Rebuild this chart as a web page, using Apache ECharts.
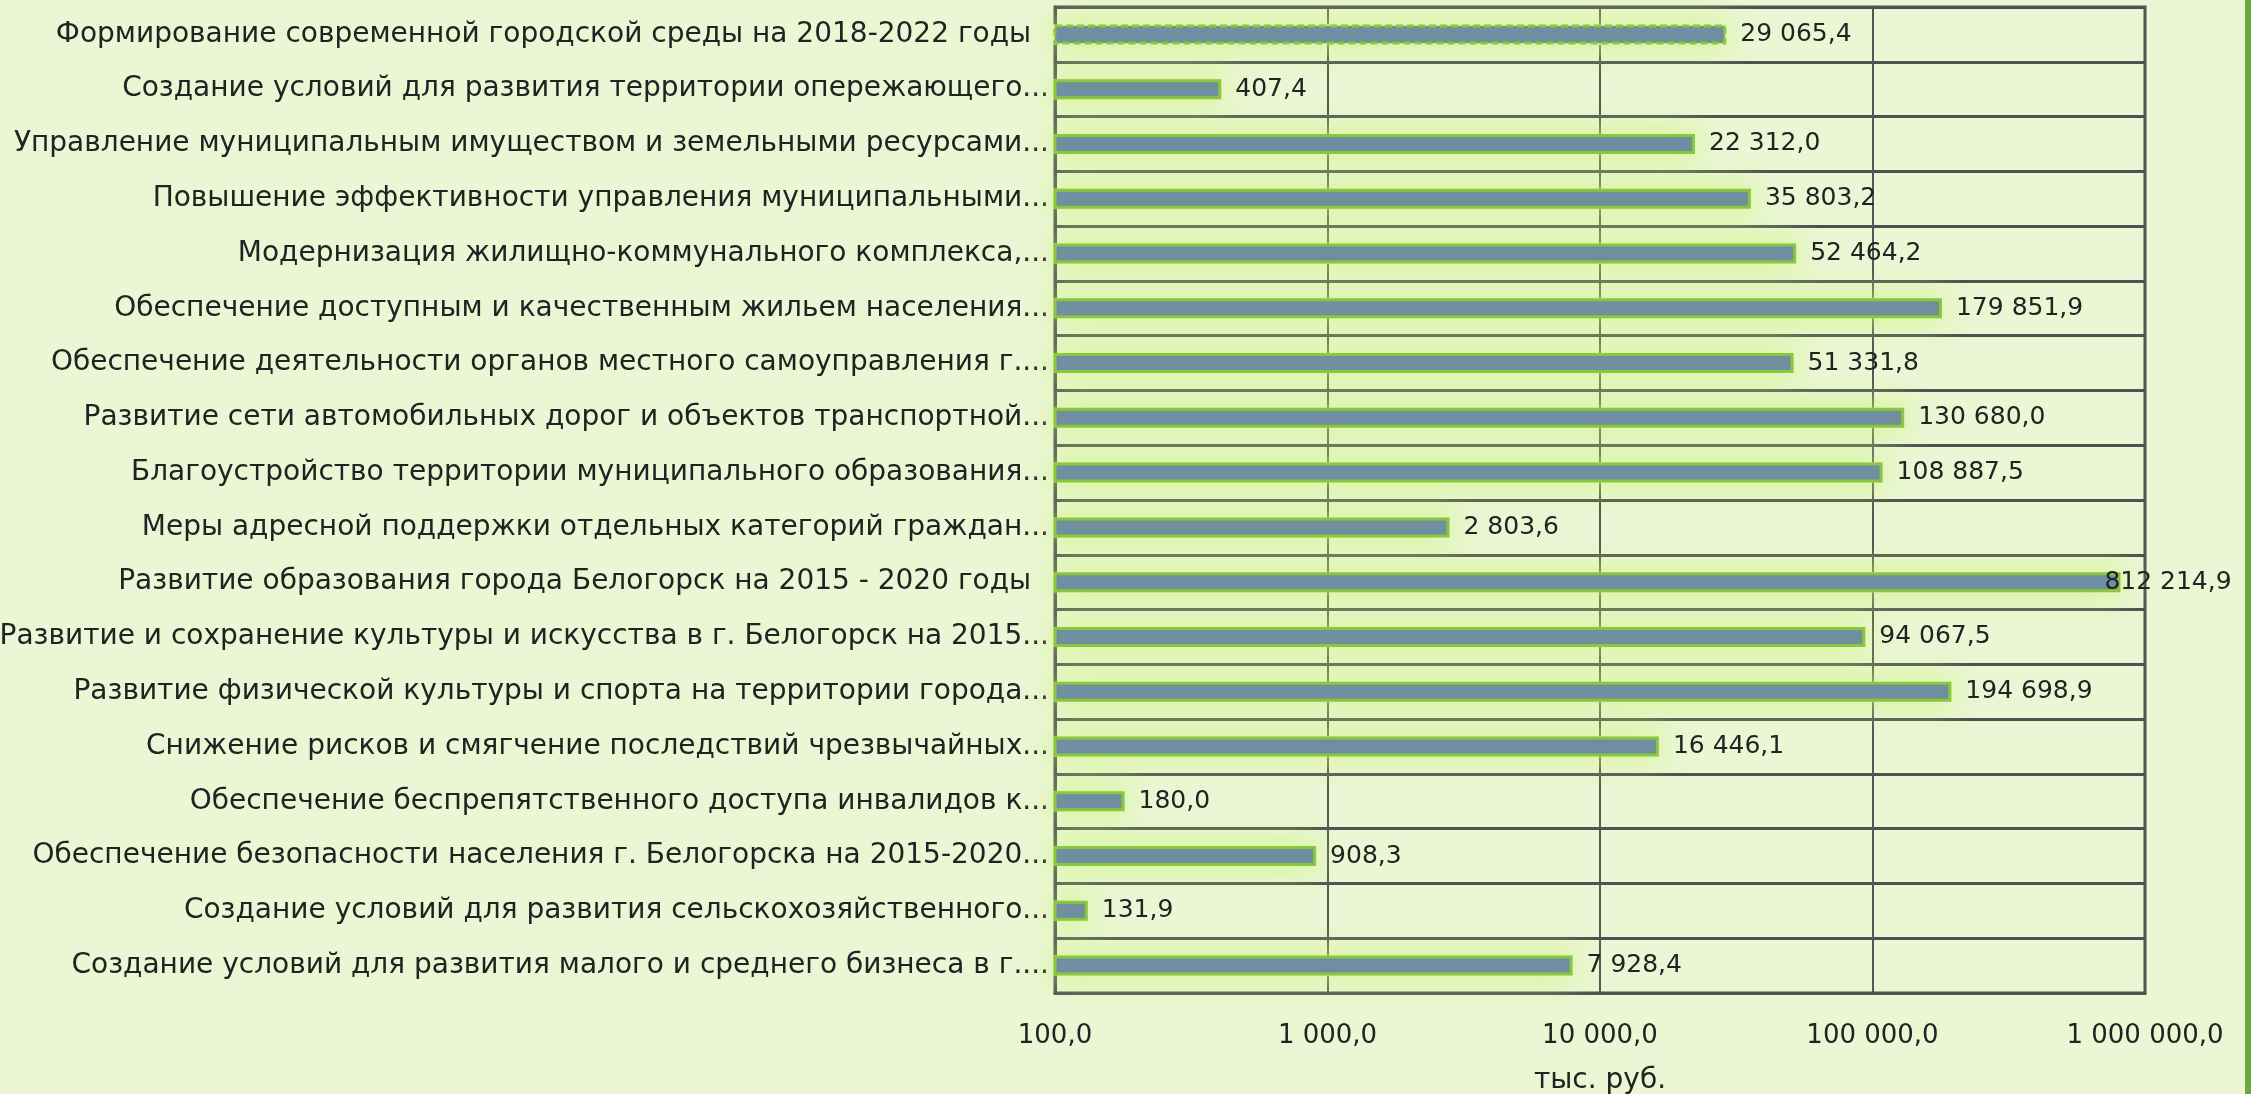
<!DOCTYPE html>
<html>
<head>
<meta charset="utf-8">
<script src="https://cdn.jsdelivr.net/npm/echarts@6/dist/echarts.min.js"></script>
<style>
html,body{margin:0;padding:0;background:#eaf6d4;}
#chart{width:2251px;height:1094px;}
</style>
</head>
<body>
<div id="chart"></div>
<script>
const categories = [
  "Формирование современной городской среды на 2018-2022 годы  ",
  "Создание условий для развития территории опережающего...",
  "Управление муниципальным имуществом и земельными ресурсами...",
  "Повышение эффективности управления муниципальными...",
  "Модернизация жилищно-коммунального комплекса,...",
  "Обеспечение доступным и качественным жильем населения...",
  "Обеспечение деятельности органов местного самоуправления г....",
  "Развитие сети автомобильных дорог и объектов транспортной...",
  "Благоустройство территории муниципального образования...",
  "Меры адресной поддержки отдельных категорий граждан...",
  "Развитие образования города Белогорск на 2015 - 2020 годы  ",
  "Развитие и сохранение культуры и искусства в г. Белогорск на 2015...",
  "Развитие физической культуры и спорта на территории города...",
  "Снижение рисков и смягчение последствий чрезвычайных...",
  "Обеспечение беспрепятственного доступа инвалидов к...",
  "Обеспечение безопасности населения г. Белогорска на 2015-2020...",
  "Создание условий для развития сельскохозяйственного...",
  "Создание условий для развития малого и среднего бизнеса в г...."
];
const values = [29065.4, 407.4, 22312.0, 35803.2, 52464.2, 179851.9, 51331.8, 130680.0, 108887.5, 2803.6, 812214.9, 94067.5, 194698.9, 16446.1, 180.0, 908.3, 131.9, 7928.4];
const axisMin = 100, axisMax = 1000000;
const axisTitle = "тыс. руб.";

function fmt(v){
  const s = Number(v).toFixed(1).split('.');
  return s[0].replace(/\B(?=(\d{3})+(?!\d))/g, ' ') + ',' + s[1];
}

const FONT = 'DejaVu Sans';
const GLOW = 'rgba(205,245,130,1)';
const chart = echarts.init(document.getElementById('chart'), null, {renderer:'canvas'});
const maxV = Math.max(...values);
const data = values.map((v, i) => {
  const d = {value: v};
  if (i === 0) d.itemStyle = {borderType: [7, 4]};
  if (v === maxV) d.label = {offset: [-30, 0]};
  return d;
});
chart.setOption({
  backgroundColor: '#eaf6d4',
  animation: false,
  textStyle: {fontFamily: FONT},
  grid: {left: 1055, right: 106, top: 7, bottom: 101, show: true, borderColor: '#505050', borderWidth: 3,
    containLabel: false, outerBoundsMode: 'none'},
  xAxis: {
    type: 'log', logBase: 10, min: axisMin, max: axisMax,
    name: axisTitle, nameLocation: 'middle', nameGap: 74,
    nameTextStyle: {fontSize: 28, color: '#222', fontFamily: FONT},
    axisLine: {show: true, lineStyle: {color: '#505050', width: 3}},
    axisTick: {show: false},
    axisLabel: {fontSize: 26, color: '#222', margin: 30, fontFamily: FONT, formatter: v => fmt(v)},
    splitLine: {show: true, lineStyle: {color: '#555', width: 2}}
  },
  yAxis: {
    type: 'category', data: categories, inverse: true,
    axisLine: {show: true, lineStyle: {color: '#505050', width: 3}},
    axisTick: {show: false},
    axisLabel: {fontSize: 28, color: '#222', margin: 6, fontFamily: FONT},
    splitLine: {show: true, lineStyle: {color: '#505050', width: 3}}
  },
  series: [{
    type: 'bar', data: values, barWidth: 20, barGap: '-100%', silent: true, z: 1,
    itemStyle: {color: GLOW, borderColor: GLOW, borderWidth: 4, shadowColor: GLOW, shadowBlur: 30},
    label: {show: false}
  }, {
    type: 'bar', data: data, barWidth: 20, barGap: '-100%', z: 2,
    itemStyle: {color: '#6f8fa0', borderColor: '#8cc63f', borderWidth: 3},
    label: {show: true, position: 'right', distance: 14, fontSize: 25, color: '#222', fontFamily: FONT,
      formatter: p => fmt(p.value)}
  }],
  graphic: [{type: 'rect', right: 0, top: 0, shape: {width: 6, height: 1094}, style: {fill: '#6aa842'}}]
});
</script>
</body>
</html>
